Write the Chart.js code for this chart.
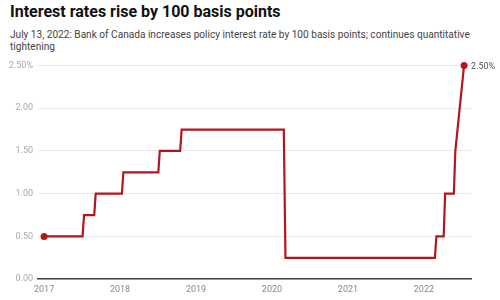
<!DOCTYPE html>
<html>
<head>
<meta charset="utf-8">
<script src="https://cdn.jsdelivr.net/npm/chart.js@4.4.0/dist/chart.umd.min.js"></script>
<style>
  html, body { margin: 0; padding: 0; background: #fff; }
  body { width: 500px; height: 300px; position: relative; overflow: hidden; font-family: Roboto, sans-serif; }
  #title { position: absolute; left: 10px; top: 2px; font-size: 16px; font-weight: 700; color: #111; white-space: nowrap; }
  #subtitle { position: absolute; left: 10px; top: 29px; width: 485px; font-size: 10.1px; line-height: 12px; color: #444; }
  #wrap { position: absolute; left: 0; top: 55px; width: 500px; height: 245px; }
</style>
</head>
<body>
<div id="title">Interest rates rise by 100 basis points</div>
<div id="subtitle">July 13, 2022: Bank of Canada increases policy interest rate by 100 basis points; continues quantitative tightening</div>
<div id="wrap"><canvas id="rateChart"></canvas></div>
<script>
// policy rate, with the day before each change to hold the old level
var dates = [
  '2017-01-01', '2017-07-05', '2017-07-12', '2017-08-30', '2017-09-06',
  '2018-01-10', '2018-01-17', '2018-07-04', '2018-07-11', '2018-10-17', '2018-10-24',
  '2020-02-27', '2020-03-06',
  '2022-02-23', '2022-03-02', '2022-04-06', '2022-04-13', '2022-05-25', '2022-06-01',
  '2022-07-13'
];
var rates = [
  0.50, 0.50, 0.75, 0.75, 1.00,
  1.00, 1.25, 1.25, 1.50, 1.50, 1.75,
  1.75, 0.25,
  0.25, 0.50, 0.50, 1.00, 1.00, 1.50,
  2.50
];
var yearTicks = [2017, 2018, 2019, 2020, 2021, 2022];
var rateTicks = [0, 0.5, 1, 1.5, 2, 2.5];

function toYear(s) {
  var d = new Date(s + 'T00:00:00Z');
  var y = d.getUTCFullYear();
  var start = Date.UTC(y, 0, 1), end = Date.UTC(y + 1, 0, 1);
  return y + (d.getTime() - start) / (end - start);
}

var points = dates.map(function (d, i) { return { x: toYear(d), y: rates[i] }; });
var lastIdx = points.length - 1;
var red = '#b5161d';

var endLabel = {
  id: 'endLabel',
  afterDatasetsDraw: function (chart) {
    var el = chart.getDatasetMeta(0).data[lastIdx];
    var ctx = chart.ctx;
    ctx.save();
    ctx.font = '9px Roboto';
    ctx.fillStyle = '#555';
    ctx.textAlign = 'left';
    ctx.textBaseline = 'middle';
    ctx.fillText(rates[lastIdx].toFixed(2) + '%', el.x + 7, el.y + 1);
    ctx.restore();
  }
};

new Chart(document.getElementById('rateChart'), {
  type: 'line',
  data: {
    datasets: [{
      data: points,
      borderColor: red,
      backgroundColor: red,
      borderWidth: 2.2,
      tension: 0,
      clip: false,
      pointRadius: function (c) { return (c.dataIndex === 0 || c.dataIndex === lastIdx) ? 3.5 : 0; },
      pointHoverRadius: 0,
      pointBorderWidth: 0
    }]
  },
  options: {
    responsive: true,
    maintainAspectRatio: false,
    animation: false,
    layout: { padding: { top: 10, right: 29, left: 0, bottom: 0 } },
    plugins: { legend: { display: false }, tooltip: { enabled: false } },
    scales: {
      x: {
        type: 'linear',
        min: 2016.92,
        max: 2022.62,
        afterBuildTicks: function (s) { s.ticks = yearTicks.map(function (v) { return { value: v }; }); },
        grid: { display: false, drawTicks: false },
        border: { display: true, color: '#444', width: 1.5 },
        ticks: {
          color: '#888',
          font: { family: 'Roboto', size: 9 },
          padding: 5,
          maxRotation: 0,
          callback: function (v) { return String(v); }
        }
      },
      y: {
        min: 0,
        max: 2.5,
        afterBuildTicks: function (s) { s.ticks = rateTicks.map(function (v) { return { value: v }; }); },
        afterFit: function (s) { s.width = 38; },
        grid: { color: '#ebebeb', lineWidth: 1, drawTicks: false },
        border: { display: false },
        ticks: {
          color: '#aaa',
          font: { family: 'Roboto', size: 9 },
          padding: 5,
          callback: function (v) { return v === 2.5 ? '2.50%' : v.toFixed(2); }
        }
      }
    }
  },
  plugins: [endLabel]
});
</script>
</body>
</html>
